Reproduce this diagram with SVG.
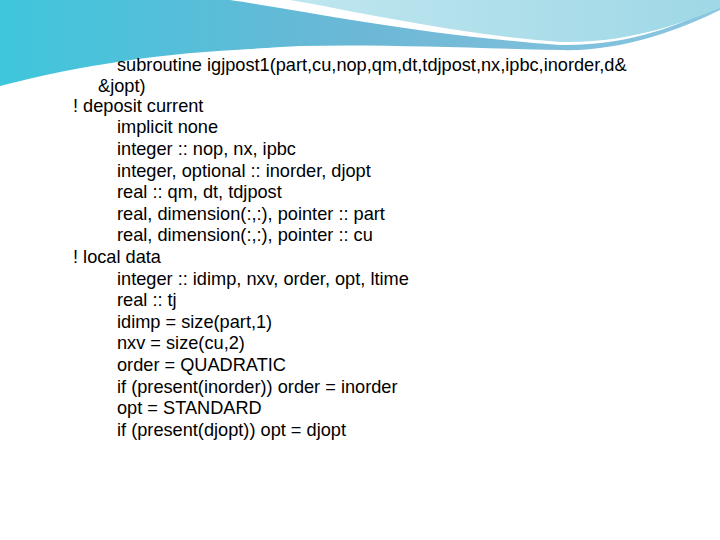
<svg xmlns="http://www.w3.org/2000/svg" width="720" height="540" viewBox="0 0 720 540">
<defs>
<linearGradient id="g1" x1="0" y1="0" x2="1" y2="0">
<stop offset="0" stop-color="#3fc6dc"/><stop offset="0.5" stop-color="#6cb7d6"/><stop offset="1" stop-color="#8cc6e0"/>
</linearGradient>
<linearGradient id="g2" x1="0" y1="0" x2="1" y2="0">
<stop offset="0" stop-color="#bfe6ef"/><stop offset="1" stop-color="#9fd8e6"/>
</linearGradient>
<style>text{font-family:"Liberation Sans",Arial,sans-serif;font-size:18.2px;fill:#000}</style>
</defs>
<rect width="720" height="540" fill="#fff"/>
<path d="M0 0H720 L720 10 C680 30 620 52 560 50 C470 48 380 44 300 46 C180 52 80 70 0 92 Z" fill="url(#g1)"/>
<path d="M230 0 C300 10 420 35 560 45 C630 46 680 25 720 5 V0 Z" fill="#fff"/>
<path d="M290 0 C360 12 460 35 560 42 C630 44 690 20 720 8 V0 H290 Z" fill="url(#g2)"/>
<path d="M0 86 C100 60 200 48 320 47 C420 47 520 54 580 54 C650 52 700 30 720 17 V27 C690 42 640 58 560 58 C480 58 400 52 300 52 C180 54 90 68 0 96 Z" fill="#fff"/>
<g id="code">
<text x="117" y="71">subroutine igjpost1(part,cu,nop,qm,dt,tdjpost,nx,ipbc,inorder,d&amp;</text>
<text x="98" y="92">&amp;jopt)</text>
<text x="73" y="112">! deposit current</text>
<text x="117" y="133">implicit none</text>
<text x="117" y="155">integer :: nop, nx, ipbc</text>
<text x="117" y="177">integer, optional :: inorder, djopt</text>
<text x="117" y="198">real :: qm, dt, tdjpost</text>
<text x="117" y="220">real, dimension(:,:), pointer :: part</text>
<text x="117" y="241">real, dimension(:,:), pointer :: cu</text>
<text x="73" y="263">! local data</text>
<text x="117" y="285">integer :: idimp, nxv, order, opt, ltime</text>
<text x="117" y="306">real :: tj</text>
<text x="117" y="328">idimp = size(part,1)</text>
<text x="117" y="349">nxv = size(cu,2)</text>
<text x="117" y="371">order = QUADRATIC</text>
<text x="117" y="393">if (present(inorder)) order = inorder</text>
<text x="117" y="414">opt = STANDARD</text>
<text x="117" y="436">if (present(djopt)) opt = djopt</text>
</g>
</svg>
